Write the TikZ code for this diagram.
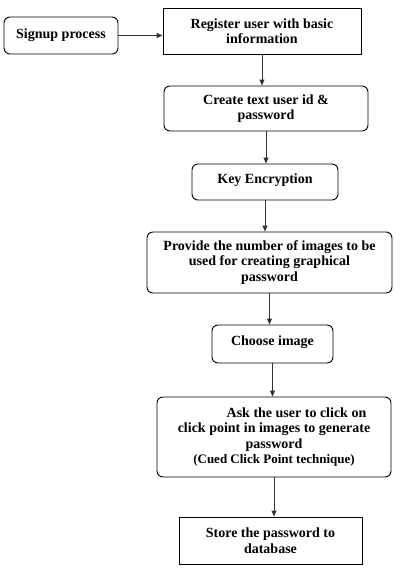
\documentclass[tikz,border=0pt]{standalone}
\usepackage{fontspec}
\setmainfont{Liberation Serif}
\usetikzlibrary{arrows.meta}
\tikzset{
  box/.style={draw=black, line width=0.9pt, inner sep=0pt, align=center,
    font=\fontsize{14}{15.5}\selectfont\bfseries},
  rbox/.style={box, rounded corners=6pt},
  conn/.style={draw=black!80, line width=0.9pt, -{Triangle[length=6pt,width=5pt]}}
}
\begin{document}
\begin{tikzpicture}[x=1pt,y=-1pt]
\useasboundingbox (0,0) rectangle (415,579);
\node[rbox, minimum width=114pt, minimum height=37pt] (signup) at (61,35.5) {Signup process};
\node[box, minimum width=198pt, minimum height=46pt] (reg) at (262,31) {Register user with basic\\information};
\node[rbox, minimum width=204pt, minimum height=45pt] (create) at (266,108.5) {Create text user id \&\\password};
\node[rbox, minimum width=146pt, minimum height=36pt, text depth=6pt] (key) at (265,182) {Key Encryption};
\node[rbox, minimum width=245pt, minimum height=61pt] (provide) at (269.5,262.5) {Provide the number of images to be\\used for creating graphical\\password};
\node[rbox, minimum width=121pt, minimum height=38pt, text depth=7pt] (choose) at (272.5,344) {Choose image};
\node[rbox, minimum width=234pt, minimum height=80pt] (ask) at (274,437) {\hspace*{45pt}Ask the user to click on\\click point in images to generate\\password\\{\fontsize{13}{15}\selectfont(Cued Click Point technique)}};
\node[box, minimum width=183pt, minimum height=47pt] (store) at (270.5,540.5) {Store the password to\\database};
\draw[conn] (signup.east) -- (signup.east -| reg.west);
\draw[conn] (reg.south) -- (reg.south |- create.north);
\draw[conn] (create.south) -- (create.south |- key.north);
\draw[conn] (key.south) -- (key.south |- provide.north);
\draw[conn] (provide.south) -- (provide.south |- choose.north);
\draw[conn] (choose.south) -- (choose.south |- ask.north);
\draw[conn] (ask.south) -- (ask.south |- store.north);
\end{tikzpicture}
\end{document}
